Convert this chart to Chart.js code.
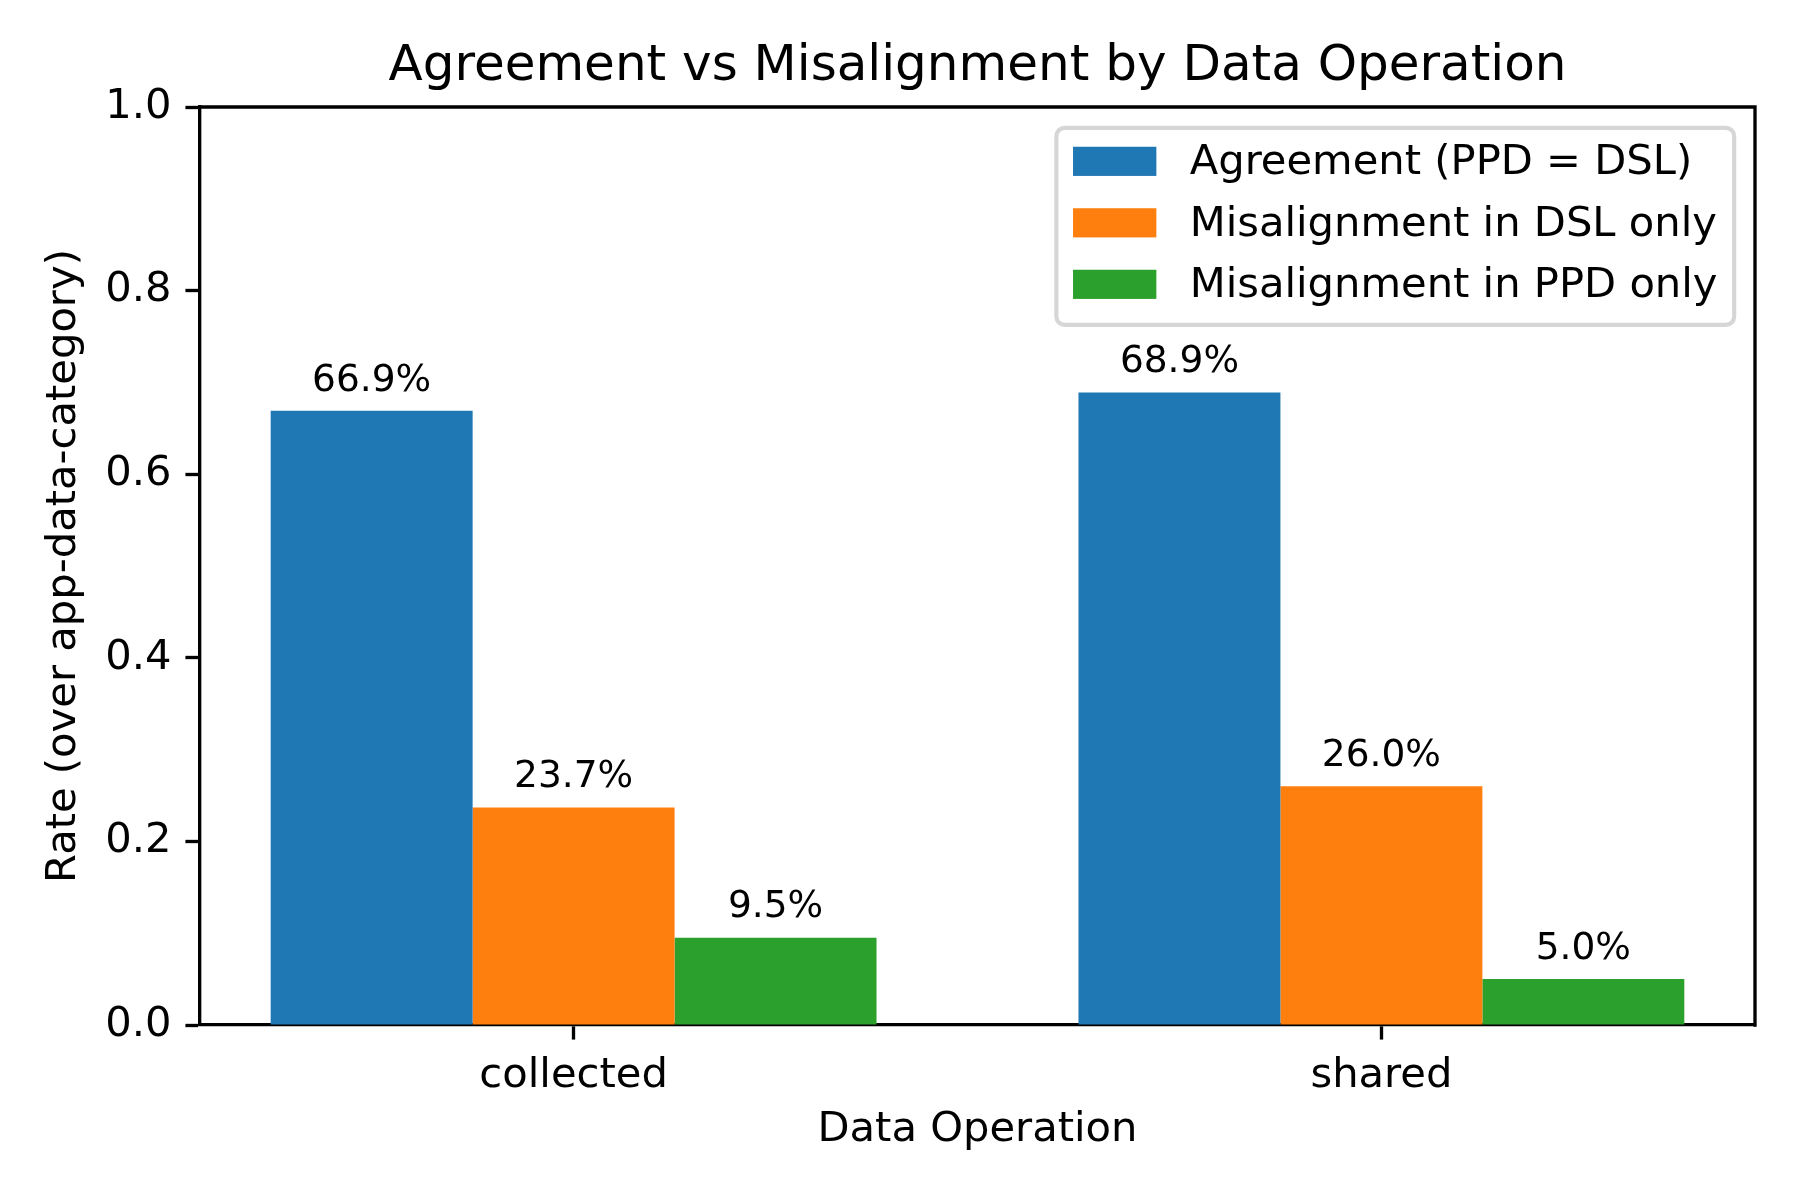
<!DOCTYPE html>
<html>
<head>
<meta charset="utf-8">
<title>Agreement vs Misalignment by Data Operation</title>
<script src="https://cdn.jsdelivr.net/npm/chart.js@4.4.1/dist/chart.umd.min.js"></script>
<style>
  html, body { margin: 0; padding: 0; background: #fff; }
  #wrap { width: 1800px; height: 1200px; }
</style>
</head>
<body>
<div id="wrap"><canvas id="chart" width="1800" height="1200"></canvas></div>
<script>
// data
const categories = ["collected", "shared"]
const seriesNames = ["Agreement (PPD = DSL)", "Misalignment in DSL only", "Misalignment in PPD only"]
const agreement = [0.669, 0.689]
const dslOnly = [0.237, 0.260]
const ppdOnly = [0.095, 0.050]
const yTicks = [0.0, 0.2, 0.4, 0.6, 0.8, 1.0]

const colors = ["#1f77b4", "#ff7f0e", "#2ca02c"]
const FONT = "'DejaVu Sans', sans-serif"
const PT = 300 / 72            // figure is 6x4 in at 300 dpi
const LINE = 0.8 * PT          // spine / tick width
const groupWidth = 0.75        // three bars of 0.25 each
const span = (categories.length - 1) + groupWidth
const xMin = -groupWidth / 2 - 0.05 * span
const xMax = (categories.length - 1) + groupWidth / 2 + 0.05 * span

const series = [agreement, dslOnly, ppdOnly]
const datasets = series.map((vals, s) => ({
  label: seriesNames[s],
  data: vals.map((v, i) => ({ x: i, y: v })),
  backgroundColor: colors[s],
  borderWidth: 0
}))

// top and right spines
const spines = {
  id: "spines",
  afterDatasetsDraw(chart) {
    const { ctx, chartArea: a } = chart
    ctx.save()
    ctx.strokeStyle = "#000"
    ctx.lineWidth = LINE
    ctx.lineCap = "square"
    ctx.beginPath()
    ctx.moveTo(a.left, a.top)
    ctx.lineTo(a.right, a.top)
    ctx.lineTo(a.right, a.bottom)
    ctx.stroke()
    ctx.restore()
  }
}

// percentage labels over the bars
const barLabels = {
  id: "barLabels",
  afterDatasetsDraw(chart) {
    const { ctx } = chart
    ctx.save()
    ctx.font = `${9 * PT}px ${FONT}`
    ctx.fillStyle = "#000"
    ctx.textAlign = "center"
    ctx.textBaseline = "alphabetic"
    chart.data.datasets.forEach((ds, s) => {
      chart.getDatasetMeta(s).data.forEach((bar, i) => {
        const v = ds.data[i].y
        ctx.fillText((v * 100).toFixed(1) + "%", bar.x, bar.y - 3 * PT - 7.8)
      })
    })
    ctx.restore()
  }
}

// matplotlib-style legend box, upper right
const boxLegend = {
  id: "boxLegend",
  afterDraw(chart) {
    const { ctx, chartArea: a } = chart
    const fs = 10 * PT
    ctx.save()
    ctx.font = `${fs}px ${FONT}`
    const names = chart.data.datasets.map(d => d.label)
    const textW = Math.max(...names.map(n => ctx.measureText(n).width))
    const pad = 0.4 * fs, handleW = 2 * fs, handleH = 0.7 * fs, gap = 0.8 * fs
    const rowPitch = 61.5
    const w = pad + handleW + gap + textW + pad
    const h = 2 * pad + 3 * 40.7 + 2 * 0.5 * fs
    const x = a.right - 0.5 * fs - w
    const y = a.top + 0.5 * fs
    ctx.beginPath()
    ctx.roundRect(x, y, w, h, 0.2 * fs)
    ctx.fillStyle = "rgba(255,255,255,0.8)"
    ctx.fill()
    ctx.lineWidth = 1 * PT
    ctx.strokeStyle = "#d6d6d6"
    ctx.stroke()
    names.forEach((n, i) => {
      const cy = y + 33.5 + i * rowPitch
      ctx.fillStyle = chart.data.datasets[i].backgroundColor
      ctx.fillRect(x + pad, cy - handleH / 2, handleW, handleH)
      ctx.fillStyle = "#000"
      ctx.textAlign = "left"
      ctx.textBaseline = "alphabetic"
      ctx.fillText(n, x + pad + handleW + gap, cy + 13)
    })
    ctx.restore()
  }
}

const tickFont = { family: FONT, size: 10 * PT, weight: "normal" }

new Chart(document.getElementById("chart"), {
  type: "bar",
  data: { datasets },
  plugins: [spines, barLabels, boxLegend],
  options: {
    responsive: false,
    animation: false,
    devicePixelRatio: 1,
    layout: { padding: { left: 0, right: 45, top: 0, bottom: 0 } },
    datasets: { bar: { categoryPercentage: groupWidth, barPercentage: 1.0 } },
    plugins: {
      legend: { display: false },
      tooltip: { enabled: false },
      title: {
        display: true,
        fullSize: false,
        text: "Agreement vs Misalignment by Data Operation",
        color: "#000",
        font: { family: FONT, size: 12 * PT, weight: "normal" },
        padding: { top: 37, bottom: 10 }
      }
    },
    scales: {
      x: {
        type: "linear",
        min: xMin,
        max: xMax,
        offset: false,
        afterBuildTicks: axis => { axis.ticks = categories.map((c, i) => ({ value: i })) },
        afterFit: scale => { scale.height = 175 },
        grid: { display: true, offset: false, drawOnChartArea: false, drawTicks: true, tickLength: 3.5 * PT, tickWidth: LINE, tickColor: "#000" },
        border: { display: true, color: "#000", width: LINE },
        ticks: { color: "#000", font: tickFont, padding: 12, maxRotation: 0, autoSkip: false, callback: v => categories[v] },
        title: { display: true, text: "Data Operation", color: "#000", font: tickFont, padding: { top: 0, bottom: 45 } }
      },
      y: {
        min: 0,
        max: 1,
        afterBuildTicks: axis => { axis.ticks = yTicks.map(v => ({ value: v })) },
        afterFit: scale => { scale.width = 200 },
        grid: { display: true, drawOnChartArea: false, drawTicks: true, tickLength: 3.5 * PT, tickWidth: LINE, tickColor: "#000" },
        border: { display: true, color: "#000", width: LINE },
        ticks: { color: "#000", font: tickFont, padding: 14, callback: v => v.toFixed(1) },
        title: { display: true, text: "Rate (over app-data-category)", color: "#000", font: tickFont, padding: { top: 39, bottom: 0 } }
      }
    }
  }
})
</script>
</body>
</html>
